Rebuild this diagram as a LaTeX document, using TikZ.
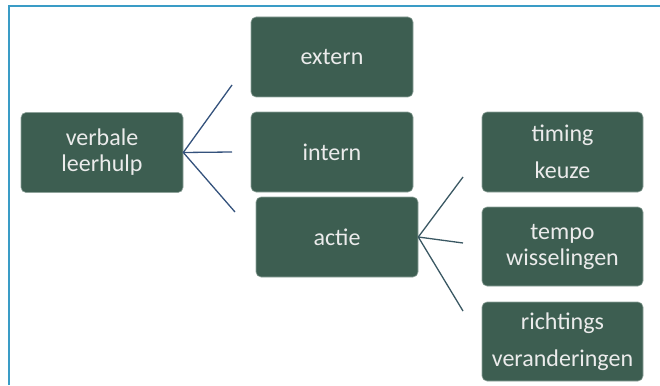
\documentclass[tikz,border=0pt]{standalone}
\usepackage{fontspec}
\setmainfont{Carlito}
\definecolor{boxfill}{HTML}{3D5E51}
\definecolor{boxline}{HTML}{8FA39B}
\definecolor{linkA}{HTML}{34527C}
\definecolor{linkB}{HTML}{3A5863}
\definecolor{frame}{HTML}{3A9CC6}
\begin{document}
\begin{tikzpicture}[x=1pt,y=-1pt,
  gbox/.style={draw=boxline, line width=0.6pt, fill=boxfill, rounded corners=5pt,
    text=white!92!black, align=center, inner sep=0pt,
    minimum width=162pt, minimum height=80pt,
    font=\fontsize{24}{26}\selectfont},
  linkone/.style={draw=linkA, line width=1.3pt},
  linktwo/.style={draw=linkB, line width=1.3pt}]
\useasboundingbox (0,0) rectangle (660,385);
\draw[frame, line width=1.2pt] (9,385) -- (9,6) -- (660,6);
% boxes
\node[gbox] (verb) at (102,152.5) {verbale\\leerhulp};
\node[gbox] (ext) at (332,57) {extern};
\node[gbox] (int) at (332,152) {intern};
\node[gbox] (actie) at (337,237) {actie};
\node[gbox, minimum width=161pt] (timing) at (562.5,152) {timing\\[11pt]keuze};
\node[gbox, minimum width=161pt, minimum height=79pt] (tempo) at (562.5,246.5) {tempo\\wisselingen};
\node[gbox, minimum width=161pt, minimum height=79pt] (richt) at (562.5,341.5) {richtings\\[11pt]veranderingen};
% connector ends
\coordinate (v1) at (232,85);
\coordinate (v2) at (232,152);
\coordinate (v3) at (235,212);
\coordinate (a1) at (463,177);
\coordinate (a2) at (463,243);
\coordinate (a3) at (463,311);
\draw[linkone] (v1) -- (verb.east) -- (v3);
\draw[linkone] (verb.east) -- (v2);
\draw[linktwo] (a1) -- (actie.east) -- (a3);
\draw[linktwo] (actie.east) -- (a2);
\end{tikzpicture}
\end{document}
